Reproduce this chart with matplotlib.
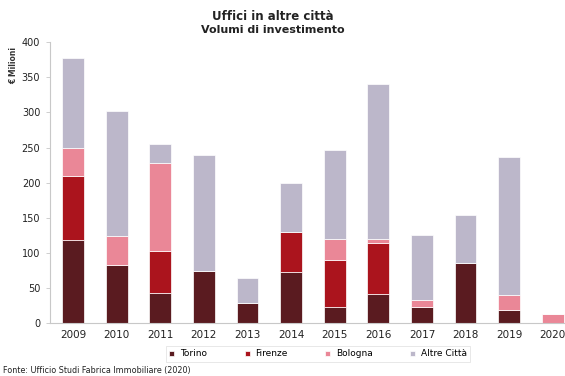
import matplotlib
matplotlib.use("Agg")
import matplotlib.pyplot as plt
import numpy as np

years = ["2009", "2010", "2011", "2012", "2013", "2014", "2015", "2016", "2017", "2018", "2019", "2020"]
torino = [118, 82, 43, 74, 28, 73, 23, 42, 23, 85, 18, 0]
firenze = [92, 0, 60, 0, 0, 57, 67, 72, 0, 0, 0, 0]
bologna = [40, 42, 125, 0, 0, 0, 29, 5, 10, 0, 22, 13]
altre = [128, 178, 27, 166, 36, 70, 128, 221, 93, 69, 197, 0]

series_names = ["Torino", "Firenze", "Bologna", "Altre Città"]
series_colors = ["#5a1b20", "#ab141d", "#ea8797", "#bcb7ca"]
yticks = [0, 50, 100, 150, 200, 250, 300, 350, 400]

fig = plt.figure(figsize=(5.65, 3.76), dpi=100)
ax = fig.add_axes([50 / 565, 1 - 323 / 376, 515 / 565, (323 - 42.3) / 376])

x = np.arange(len(years))
bottom = np.zeros(len(years))
handles = []
for vals, name, col in zip([torino, firenze, bologna, altre], series_names, series_colors):
    vals = np.array(vals, dtype=float)
    b = ax.bar(x, vals, width=0.5, bottom=bottom, color=col,
               edgecolor="white", linewidth=0.5, label=name, zorder=2)
    handles.append(b)
    bottom += vals

ax.set_xlim(-0.53, 11.28)
ax.set_ylim(0, 400)
ax.set_yticks(yticks)
ax.set_yticklabels([str(v) for v in yticks], fontsize=7)
ax.set_xticks(x)
ax.set_xticklabels(years, fontsize=7.5)

for s in ["top", "right"]:
    ax.spines[s].set_visible(False)
for s in ["left", "bottom"]:
    ax.spines[s].set_color("#c8c8c8")
    ax.spines[s].set_linewidth(0.8)
ax.tick_params(axis="y", colors="#c8c8c8", labelcolor="#222222", length=3, width=0.6, pad=4)
ax.tick_params(axis="x", length=0, labelcolor="#222222", pad=5)

fig.text(273 / 565, 1 - 17 / 376, "Uffici in altre città", ha="center", va="center",
         fontsize=8.5, fontweight="bold", color="#222222")
fig.text(273 / 565, 1 - 30 / 376, "Volumi di investimento", ha="center", va="center",
         fontsize=8, fontweight="bold", color="#222222")
fig.text(14 / 565, 1 - 66 / 376, "€ Milioni", rotation=90, ha="center", va="center",
         fontsize=5.5, fontweight="bold", color="#333333")

leg = fig.legend(handles=handles, labels=series_names, loc="center",
                 bbox_to_anchor=(318 / 565, 1 - 354 / 376), ncol=4, fontsize=6.5,
                 frameon=True, fancybox=False, handlelength=0.55, handleheight=0.55,
                 handletextpad=0.6, columnspacing=4.2, borderpad=0.35, borderaxespad=0)
leg.get_frame().set_edgecolor("#dddddd")
leg.get_frame().set_linewidth(0.6)

fig.text(3 / 565, 1 - 370 / 376, "Fonte: Ufficio Studi Fabrica Immobiliare (2020)",
         ha="left", va="center", fontsize=5.8, color="#222222")

fig.savefig("out.png", dpi=100)
